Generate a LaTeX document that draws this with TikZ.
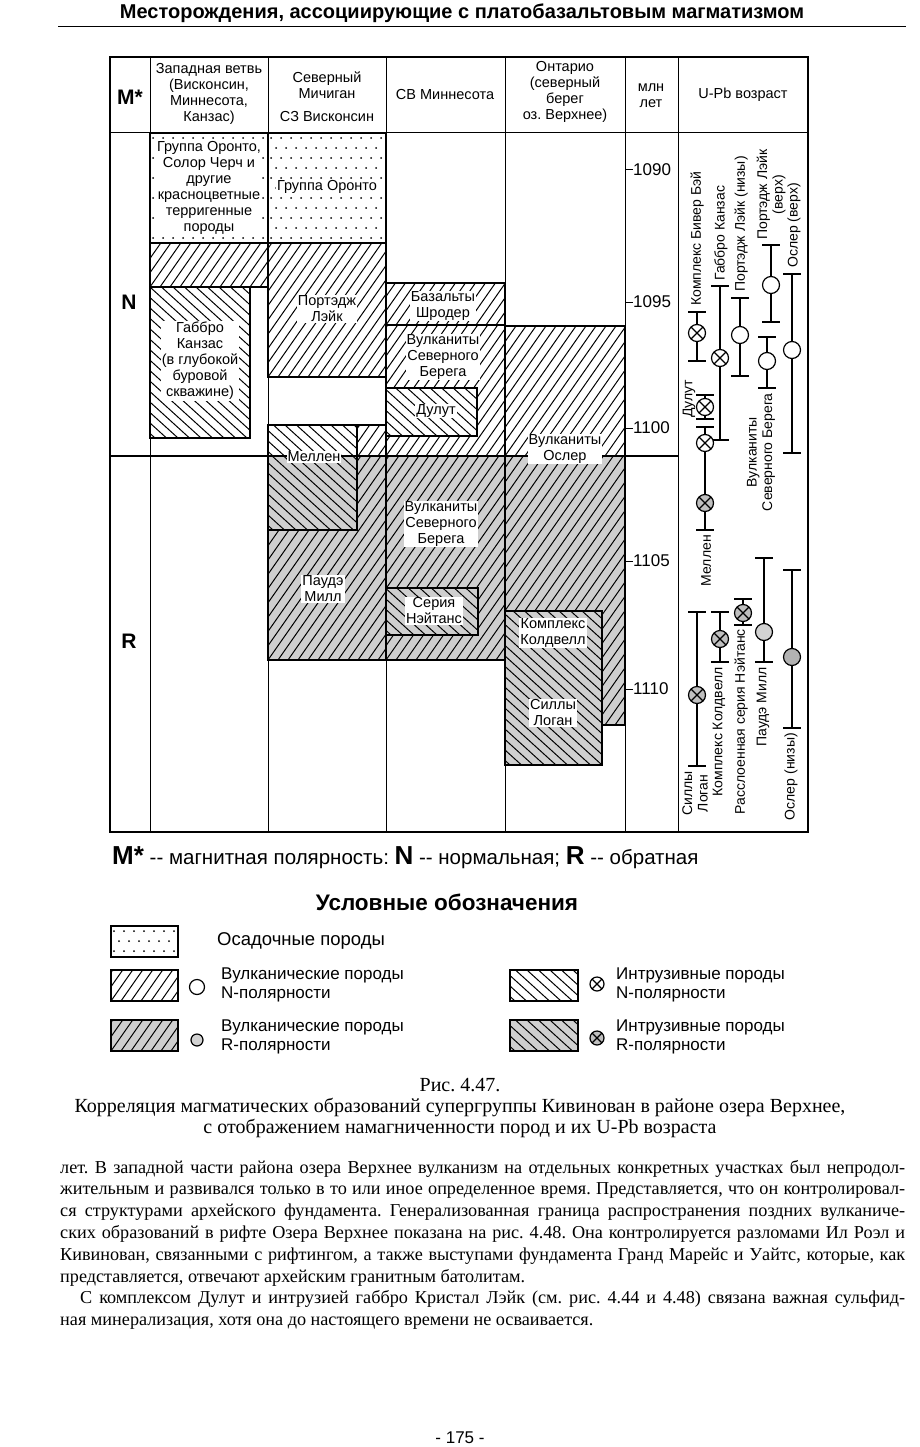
\documentclass[tikz,border=0pt]{standalone}
\usepackage{fontspec}
\setmainfont{Liberation Serif}
\newfontfamily\helv{Liberation Sans}
\frenchspacing

\newcommand{\bline}[2][845pt]{\makebox[#1][s]{#2}}

% hatching of a unit box: x1,y1,x2,y2, shift per unit height, step
\newcommand{\hatchlines}[6]{%
  \begin{scope}
    \clip (#1,#2) rectangle (#3,#4);
    \pgfmathsetmacro{\hdx}{#5*(#4-#2)}
    \pgfmathsetmacro{\hfirst}{#1-340}
    \pgfmathsetmacro{\hsecond}{#1-340+#6}
    \pgfmathsetmacro{\hlast}{#3+340}
    \foreach \k in {\hfirst,\hsecond,...,\hlast}
      \draw[hatchline] (\k,#4) -- ++(\hdx,#2-#4);
  \end{scope}}
\newcommand{\volcbox}[5][white]{%
  \fill[#1] (#2,#3) rectangle (#4,#5);
  \hatchlines{#2}{#3}{#4}{#5}{0.7}{10}
  \draw[unitedge] (#2,#3) rectangle (#4,#5);}
\newcommand{\intrbox}[5][white]{%
  \fill[#1] (#2,#3) rectangle (#4,#5);
  \hatchlines{#2}{#3}{#4}{#5}{-1.1}{11.5}
  \draw[unitedge] (#2,#3) rectangle (#4,#5);}
\newcommand{\sedbox}[4]{%
  \fill[white] (#1,#2) rectangle (#3,#4);
  \begin{scope}
    \clip (#1,#2) rectangle (#3,#4);
    \foreach \r in {0,...,11} {
      \pgfmathsetmacro{\dy}{#2+5+10*\r}
      \pgfmathsetmacro{\dxo}{#1+3+5*mod(\r,2)}
      \foreach \c in {0,...,12}
        \fill (\dxo+10*\c,\dy) circle (1);
    }
  \end{scope}
  \draw[unitedge] (#1,#2) rectangle (#3,#4);}

\tikzset{
  hatchline/.style={line width=1pt},
  unitedge/.style={line width=1.6pt},
  lbl/.style={font=\helv\fontsize{14.5}{16}\selectfont, align=center, inner sep=1pt},
  wlbl/.style={lbl, fill=white},
  bigl/.style={font=\helv\bfseries\fontsize{21}{23}\selectfont, inner sep=0pt},
  tick/.style={font=\helv\fontsize{17}{19}\selectfont, inner sep=0pt, anchor=west},
  upbar/.style={line width=1.1pt},
  upcap/.style={line width=1.6pt},
  nv/.style={circle, draw, line width=1.2pt, fill=white, minimum size=17pt, inner sep=0pt},
  rv/.style={nv, fill=gray!35},
  nx/.style={nv, path picture={\draw[line width=1.2pt]
      (path picture bounding box.north west) -- (path picture bounding box.south east)
      (path picture bounding box.north east) -- (path picture bounding box.south west);}},
  rx/.style={nx, fill=gray!50},
  uplbl/.style={font=\helv\fontsize{14}{15.5}\selectfont, align=center, rotate=90, inner sep=0pt},
  lgd/.style={font=\helv\fontsize{17}{19}\selectfont, align=left, inner sep=0pt, anchor=west},
  body/.style={font=\fontsize{18.2}{21}\selectfont, inner sep=0pt, anchor=base west},
  capt/.style={font=\fontsize{20}{22}\selectfont, inner sep=0pt},
}

\begin{document}
\begin{tikzpicture}[x=1pt, y=-1pt]
  \useasboundingbox (0,0) rectangle (920,1447);
  \fill[white] (0,0) rectangle (920,1447);

  % page header
  \node[font=\helv\bfseries\fontsize{20}{22}\selectfont] (title) at (462,13)
    {Месторождения, ассоциирующие с платобазальтовым магматизмом};
  \draw[line width=1pt] (58,27) -- (906,27);

  % western branch
  \sedbox{150}{133}{268}{243}
  \volcbox{150}{243}{268}{287}
  \intrbox{150}{287}{250}{438}
  % north Michigan
  \sedbox{268}{133}{386}{243}
  \volcbox{268}{243}{386}{377}
  \volcbox{268}{425}{386}{456}
  \volcbox[gray!38]{268}{456}{386}{660}
  \intrbox{268}{425}{357}{456}
  \intrbox[gray!38]{268}{456}{357}{530}
  % NE Minnesota
  \volcbox{386}{283}{505}{325}
  \volcbox{386}{325}{505}{456}
  \intrbox{386}{388}{477}{436}
  \volcbox[gray!38]{386}{456}{505}{660}
  \intrbox[gray!38]{386}{588}{478}{635}
  % Ontario
  \volcbox{505}{326}{625}{456}
  \volcbox[gray!38]{505}{456}{625}{725}
  \intrbox[gray!38]{505}{611}{602}{765}

  % table grid
  \foreach \cx in {150,268,386,505,625,678}
    \draw[line width=0.9pt] (\cx,57) -- (\cx,832);
  \draw[line width=1.2pt] (110,57) rectangle (808,832);
  \draw[line width=1pt] (110,133) -- (808,133);
  \draw[line width=1.8pt] (110,456) -- (678,456);

  % column heads
  \node[bigl] (mpol) at (130,97) {M*};
  \node[lbl] (hwest) at (209,94) {Западная ветвь\\(Висконсин,\\Миннесота,\\Канзас)};
  \node[lbl] (hmich) at (327,85) {Северный\\Мичиган};
  \node[lbl] (hwisc) at (327,117) {СЗ Висконсин};
  \node[lbl] (hminn) at (445,95) {СВ Миннесота};
  \node[lbl] (hont) at (565,92) {Онтарио\\(северный\\берег\\оз. Верхнее)};
  \node[lbl] (hmyr) at (651,96) {млн\\лет};
  \node[lbl] (hupb) at (743,95) {U-Pb возраст};
  \node[bigl] (npol) at (129,302) {N};
  \node[bigl] (rpol) at (129,641) {R};

  % age scale
  \foreach \age/\ty in {1090/170,1095/302,1100/428,1105/561,1110/689} {
    \draw[line width=1pt] (625,\ty) -- (633,\ty);
    \node[tick] at (633,\ty) {\age};
  }

  % unit labels
  \node[wlbl] (oronw) at (209,188) {Группа Оронто,\\Солор Черч и\\другие\\красноцветные\\терригенные\\породы};
  \node[wlbl] (oronm) at (327,187) {Группа Оронто};
  \node[wlbl] (kans) at (200,361) {Габбро\\Канзас\\(в глубокой\\буровой\\скважине)};
  \node[wlbl] (portl) at (327,309) {Портэдж\\Лэйк};
  \node[wlbl] (mell) at (314,457) {Меллен};
  \node[wlbl] (powd) at (323,589) {Паудэ\\Милл};
  \node[wlbl] (schr) at (443,306) {Базальты\\Шродер};
  \node[wlbl] (nshn) at (443,357) {Вулканиты\\Северного\\Берега};
  \node[wlbl] (dult) at (436,411) {Дулут};
  \node[wlbl] (nshr) at (441,524) {Вулканиты\\Северного\\Берега};
  \node[wlbl] (nons) at (434,611) {Серия\\Нэйтанс};
  \node[wlbl] (osl) at (565,449) {Вулканиты\\Ослер};
  \node[wlbl] (cold) at (553,633) {Комплекс\\Колдвелл};
  \node[wlbl] (logn) at (553,713) {Силлы\\Логан};

  % U-Pb error bars
  \foreach \ux/\ut/\ub in {697/312/361, 720/286/440, 740/298/376, 792/274/453,
      767/337/388, 705/395/419, 705/427/530, 697/612/766, 720/612/662,
      743/599/625, 764/558/662, 792/570/728} {
    \draw[upbar] (\ux,\ut) -- (\ux,\ub);
    \draw[upcap] (\ux-9,\ut) -- (\ux+9,\ut) (\ux-9,\ub) -- (\ux+9,\ub);
  }
  \draw[line width=2pt] (771,245) -- (771,322);
  \draw[line width=2pt] (762,245) -- (780,245) (762,322) -- (780,322);

  % U-Pb symbols
  \node[nx] (beav) at (697,333) {};
  \node[nx] (kansa) at (720,358) {};
  \node[nv] (portlo) at (740,335) {};
  \node[nv] (portup) at (771,285) {};
  \node[nv] (oslup) at (792,350) {};
  \node[nv] (nshore) at (767,361) {};
  \node[nx] (dulu) at (705,407) {};
  \node[nx] (melln) at (705,443) {};
  \node[rx] (mellr) at (705,503) {};
  \node[rx] (logsi) at (697,695) {};
  \node[rx] (coldw) at (720,639) {};
  \node[rx] (nonse) at (743,613) {};
  \node[rv] (powmi) at (764,632) {};
  \node[rv, fill=gray!60] (osllo) at (792,657) {};

  % U-Pb labels
  \node[uplbl, anchor=west] (lbeav) at (697,306) {Комплекс Бивер Бэй};
  \node[uplbl, anchor=west] (lkans) at (721,281) {Габбро Канзас};
  \node[uplbl, anchor=west] (lportlo) at (741,292) {Портэдж Лэйк (низы)};
  \node[uplbl, anchor=west] (lportup) at (771,240) {Портэдж Лэйк\\(верх)};
  \node[uplbl, anchor=west] (loslup) at (794,268) {Ослер (верх)};
  \node[uplbl, anchor=east] (lnshore) at (761,393) {Вулканиты\\Северного Берега};
  \node[uplbl, anchor=west] (ldulu) at (689,418) {Дулут};
  \node[uplbl, anchor=east] (lmell) at (706,535) {Меллен};
  \node[uplbl, anchor=east] (llogsi) at (695,771) {Силлы\\Логан};
  \node[uplbl, anchor=east] (lcoldw) at (719,667) {Комплекс Колдвелл};
  \node[uplbl, anchor=east] (lnonse) at (741,629) {Расслоенная серия Нэйтанс};
  \node[uplbl, anchor=east] (lpowmi) at (763,667) {Паудэ Милл};
  \node[uplbl, anchor=east] (losllo) at (791,733) {Ослер (низы)};

  % polarity note and legend
  \node[lgd, font=\helv\fontsize{20.5}{22}\selectfont] (note) at (112,858)
    {{\bfseries\fontsize{26}{28}\selectfont M*} -{}- магнитная полярность:
    {\bfseries\fontsize{26}{28}\selectfont N} -{}- нормальная; {\bfseries\fontsize{26}{28}\selectfont R} -{}- обратная};
  \node[font=\helv\bfseries\fontsize{22.5}{24}\selectfont] (legtitle) at (447,902) {Условные обозначения};
  \sedbox{111}{926}{178}{957}
  \node[lgd, font=\helv\fontsize{18.5}{20}\selectfont] (lsed) at (217,941) {Осадочные породы};
  \volcbox{111}{970}{178}{1001}
  \node[nv, minimum size=15pt] (svn) at (197,987) {};
  \node[lgd] (lvn) at (221,985) {Вулканические породы\\N-полярности};
  \volcbox[gray!38]{111}{1020}{178}{1051}
  \node[rv, minimum size=12pt] (svr) at (197,1040) {};
  \node[lgd] (lvr) at (221,1037) {Вулканические породы\\R-полярности};
  \intrbox{510}{970}{578}{1001}
  \node[nx, minimum size=14pt] (sin) at (597,984) {};
  \node[lgd] (lin) at (616,985) {Интрузивные породы\\N-полярности};
  \intrbox[gray!38]{510}{1020}{578}{1051}
  \node[rx, minimum size=14pt] (sir) at (597,1038) {};
  \node[lgd] (lir) at (616,1037) {Интрузивные породы\\R-полярности};

  % caption
  \node[capt] (cap1) at (460,1085) {Рис. 4.47.};
  \node[capt] (cap2) at (460,1107)
    {Корреляция магматических образований супергруппы Кивинован в районе озера Верхнее,};
  \node[capt] (cap3) at (460,1128)
    {с отображением намагниченности пород и их U-Pb возраста};

  % running text
  \node[body] (t1) at (60,1173) {\bline{лет. В западной части района озера Верхнее вулканизм на отдельных конкретных участках был непродол-}};
  \node[body] (t2) at (60,1194.8) {\bline{жительным и развивался только в то или иное определенное время. Представляется, что он контролировал-}};
  \node[body] (t3) at (60,1216.6) {\bline{ся структурами архейского фундамента. Генерализованная граница распространения поздних вулканиче-}};
  \node[body] (t4) at (60,1238.4) {\bline{ских образований в рифте Озера Верхнее показана на рис. 4.48. Она контролируется разломами Ил Роэл и}};
  \node[body] (t5) at (60,1260.2) {\bline{Кивинован, связанными с рифтингом, а также выступами фундамента Гранд Марейс и Уайтс, которые, как}};
  \node[body] (t6) at (60,1282) {представляется, отвечают архейским гранитным батолитам.};
  \node[body] (t7) at (80,1303.8) {\bline[825pt]{С комплексом Дулут и интрузией габбро Кристал Лэйк (см. рис. 4.44 и 4.48) связана важная сульфид-}};
  \node[body] (t8) at (60,1325.6) {ная минерализация, хотя она до настоящего времени не осваивается.};

  \node[font=\helv\fontsize{17}{19}\selectfont] (pnum) at (460,1438) {- 175 -};
\end{tikzpicture}
\end{document}
